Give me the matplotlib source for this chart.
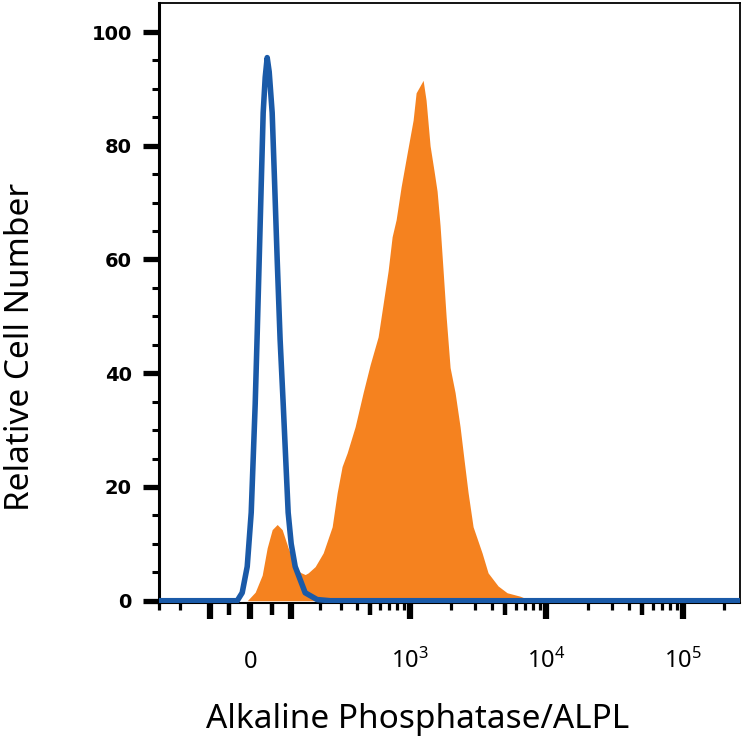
import matplotlib
matplotlib.use("Agg")
import matplotlib.pyplot as plt
import numpy as np

plt.rcParams["font.family"] = ["Noto Sans", "DejaVu Sans"]
plt.rcParams["mathtext.fontset"] = "custom"
plt.rcParams["mathtext.rm"] = "Noto Sans"
plt.rcParams["mathtext.it"] = "Noto Sans"
plt.rcParams["mathtext.bf"] = "Noto Sans:bold"

# biexponential-like display of fluorescence intensity
WIDTH = 135.0

# isotype control (blue outline)
control_x = [-300, -29.8, -18.3, -6.8, 2.3, 11.4, 16, 20.6, 25.2, 29.8, 34.5,
             39.2, 44, 51.2, 57.4, 63.6, 71, 79.1, 92.5, 101, 112.6, 144, 187,
             243, 352, 300000]
control_y = [0, 0, 1.4, 6, 15.5, 34.6, 47, 60, 73, 85.8, 92,
             95.5, 93, 85.8, 73, 60, 46, 34.6, 15.5, 10, 6, 1.4, 0.2,
             0, 0, 0]

# ALPL stained cells (orange filled)
stained_x = [-6.8, 11.4, 27.5, 39.2, 51.2, 63.6, 76.4, 92.5, 109.8, 127.8,
             144, 154.3, 179.4, 211.5, 252.1, 277.2, 303.8, 333.4, 385, 443.8,
             501.7, 576.6, 628.6, 685, 733.9, 786, 856.2, 948.4, 1050, 1105,
             1245, 1309, 1401, 1500, 1578, 1659, 1747, 1838, 1966, 2139,
             2327, 2491, 2665, 2900, 3375, 3734, 4420, 5147, 6406, 7715]
stained_y = [0, 1.5, 4.5, 9.3, 12.5, 13.4, 12.5, 9.3, 6.5, 5,
             4.6, 4.9, 6, 8.4, 13, 19, 23.6, 26, 30.6, 36.6,
             41.5, 46.4, 52.2, 58, 64, 67, 72.8, 78.7, 84.5, 89.3,
             91.5, 88, 80, 75.5, 72, 66, 58, 50, 41, 36.6,
             30.6, 24.7, 19, 13, 8.4, 4.9, 2.6, 1.4, 0.8, 0]

x_labels = ["0", "$10^{3}$", "$10^{4}$", "$10^{5}$"]
x_label_pos = [0, 1e3, 1e4, 1e5]
x_long = [-100, 0, 100, 1e3, 1e4, 1e5]
x_medium = [-50, 50, 500, 5e3, 5e4]
x_short = ([-300, -200] + [k * 1e2 for k in (2, 3, 4, 6, 7, 8, 9)]
           + [k * 1e3 for k in (2, 3, 4, 6, 7, 8, 9)]
           + [k * 1e4 for k in (2, 3, 4, 6, 7, 8, 9)] + [2e5])

ORANGE = "#f5821f"
BLUE = "#1a5aa8"


def forward(x):
    return np.arcsinh(np.asarray(x, dtype=float) / WIDTH)


def inverse(u):
    return WIDTH * np.sinh(np.asarray(u, dtype=float))


fig = plt.figure(figsize=(7.43, 7.43), dpi=100)
ax = fig.add_axes([159 / 743, 1 - 603 / 743, 581 / 743, 600 / 743])
ax.set_xscale("function", functions=(forward, inverse))

ax.fill_between(stained_x, stained_y, 0, color=ORANGE, lw=0, zorder=2)
ax.plot(control_x, control_y, color=BLUE, lw=4.0, solid_joinstyle="round",
        solid_capstyle="round", zorder=3)

ax.set_xlim(-293, 2.62e5)
ax.set_ylim(-0.4, 105.1)

# y axis
ax.set_yticks(np.arange(0, 101, 20))
ax.set_yticks([v for v in range(5, 101, 5) if v % 20], minor=True)
ax.tick_params(axis="y", which="major", length=11.5, width=3.8, pad=8,
               labelsize=14)
ax.tick_params(axis="y", which="minor", length=5, width=2.2)
for lab in ax.get_yticklabels():
    lab.set_fontfamily("DejaVu Sans")
    lab.set_fontweight("bold")

# x axis
ax.set_xticks(x_long)
ax.set_xticklabels(["" if v not in x_label_pos else x_labels[x_label_pos.index(v)]
                    for v in x_long])
minor_locs = x_medium + x_short
ax.set_xticks(minor_locs, minor=True)
ax.tick_params(axis="x", which="major", length=11.5, width=4.5, pad=35,
               labelsize=17)
ax.tick_params(axis="x", which="minor", length=5, width=2.3)
for lab in ax.get_xticklabels():
    lab.set_verticalalignment("baseline")
for t, loc in zip(ax.xaxis.get_minor_ticks(len(minor_locs)), minor_locs):
    if loc in x_medium:
        t.tick1line.set_markersize(8.5)
        t.tick1line.set_markeredgewidth(3.2)

ax.spines["left"].set_linewidth(2.2)
ax.spines["bottom"].set_linewidth(1.5)
ax.spines["top"].set_linewidth(1.3)
ax.spines["right"].set_linewidth(1.3)

fig.text(21 / 743, 1 - 347 / 743, "Relative Cell Number", rotation=90,
         ha="center", va="center", fontsize=24)
fig.text(418 / 743, 1 - 719 / 743, "Alkaline Phosphatase/ALPL",
         ha="center", va="center", fontsize=24)

fig.savefig("out.png", dpi=100)
